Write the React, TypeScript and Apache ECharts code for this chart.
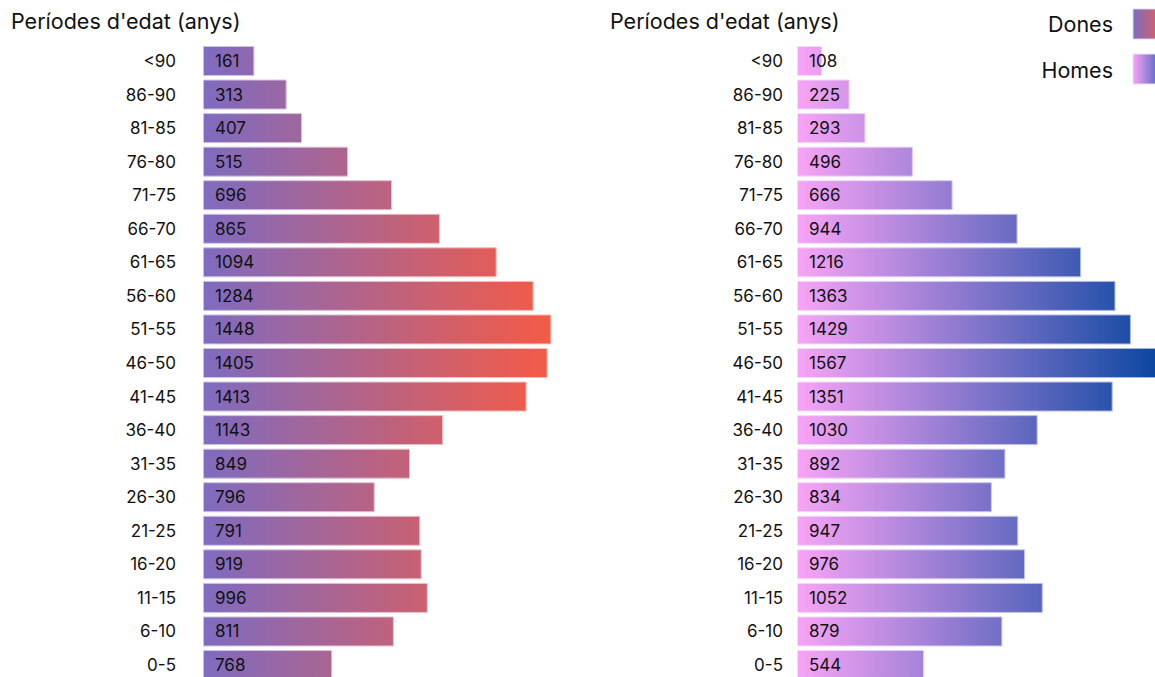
import React, { useEffect, useRef } from "react";
import * as echarts from "echarts";

const categories = ["<90", "86-90", "81-85", "76-80", "71-75", "66-70", "61-65", "56-60", "51-55", "46-50", "41-45", "36-40", "31-35", "26-30", "21-25", "16-20", "11-15", "6-10", "0-5"];

// Dones: labels as printed, and bar lengths as drawn (same axis units as Homes)
const donesLabels = [161, 313, 407, 515, 696, 865, 1094, 1284, 1448, 1405, 1413, 1143, 849, 796, 791, 919, 996, 811, 768];
const donesBars = [220, 358, 424, 621, 809, 1014, 1257, 1415, 1491, 1475, 1385, 1028, 886, 735, 930, 936, 962, 817, 553];

// Homes
const homesValues = [108, 225, 293, 496, 666, 944, 1216, 1363, 1429, 1567, 1351, 1030, 892, 834, 947, 976, 1052, 879, 544];

const titleText = "Períodes d'edat (anys)";
const FONT = "Inter, 'Noto Sans', sans-serif";

export default function App() {
  const ref = useRef<HTMLDivElement>(null);
  useEffect(() => {
    if (!ref.current) return;
    const chart = echarts.init(ref.current, null, { renderer: "svg" });
    const G = echarts.graphic.LinearGradient;
    const leftFill = new G(203, 0, 551, 0, [
      { offset: 0, color: "#7e6bc0" },
      { offset: 1, color: "#f55a45" },
    ], true);
    const leftBorder = new G(203, 0, 551, 0, [
      { offset: 0, color: "#cbc2e8" },
      { offset: 1, color: "#fbc0b6" },
    ], true);
    const rightFill = new G(797, 0, 1155, 0, [
      { offset: 0, color: "#f8a4f6" },
      { offset: 1, color: "#0d47a1" },
    ], true);
    const rightBorder = new G(797, 0, 1155, 0, [
      { offset: 0, color: "#fcd8fc" },
      { offset: 1, color: "#9fb4dc" },
    ], true);

    const catAxis = (gridIndex: number, margin: number) => ({
      type: "category",
      gridIndex,
      data: categories,
      inverse: true,
      axisLine: { show: false },
      axisTick: { show: false },
      axisLabel: { margin, color: "#111", fontSize: 17, fontFamily: FONT, align: "right" },
    });
    const valAxis = (gridIndex: number) => ({
      type: "value",
      gridIndex,
      min: 0,
      max: 1712,
      show: false,
      splitLine: { show: false },
    });
    const labelCfg = (fmt: (p: any) => string) => ({
      show: true,
      position: "insideLeft",
      distance: 12,
      color: "#111",
      fontSize: 17,
      fontFamily: FONT,
      formatter: fmt,
    });
    const titleStyle = { fontSize: 21.5, fontWeight: "normal", color: "#111", fontFamily: FONT };

    chart.setOption({
      animation: false,
      backgroundColor: "#fff",
      title: [
        { text: titleText, left: 11, top: 10, padding: 0, textStyle: titleStyle },
        { text: titleText, left: 610, top: 10, padding: 0, textStyle: titleStyle },
      ],
      grid: [
        { left: 203, top: 44.2, width: 400, height: 637.6 },
        { left: 797, top: 44.2, width: 400, height: 637.6 },
      ],
      yAxis: [catAxis(0, 27), catAxis(1, 14)],
      xAxis: [valAxis(0), valAxis(1)],
      series: [
        {
          name: "Dones",
          type: "bar",
          xAxisIndex: 0,
          yAxisIndex: 0,
          data: donesBars,
          barCategoryGap: "10.6%",
          itemStyle: { color: leftFill, borderColor: leftBorder, borderWidth: 1 },
          label: labelCfg((p: any) => String(donesLabels[p.dataIndex])),
        },
        {
          name: "Homes",
          type: "bar",
          xAxisIndex: 1,
          yAxisIndex: 1,
          data: homesValues,
          barCategoryGap: "10.6%",
          itemStyle: { color: rightFill, borderColor: rightBorder, borderWidth: 1 },
          label: labelCfg((p: any) => String(p.value)),
        },
      ],
      graphic: [
        { type: "text", x: 1113, y: 24, style: { text: "Dones", fill: "#111", fontSize: 21.5, fontFamily: FONT, textAlign: "right", textVerticalAlign: "middle" } },
        { type: "text", x: 1113, y: 70, style: { text: "Homes", fill: "#111", fontSize: 21.5, fontFamily: FONT, textAlign: "right", textVerticalAlign: "middle" } },
        {
          type: "rect", shape: { x: 1133, y: 9, width: 30, height: 30 },
          style: {
            fill: new G(0, 0, 1, 0, [{ offset: 0, color: "#7e6bc0" }, { offset: 1, color: "#e0605a" }]),
            stroke: "#ddd6ee", lineWidth: 1,
          },
        },
        {
          type: "rect", shape: { x: 1133, y: 54, width: 30, height: 30 },
          style: {
            fill: new G(0, 0, 1, 0, [{ offset: 0, color: "#f8a4f6" }, { offset: 1, color: "#3d5cb8" }]),
            stroke: "#e8e0f4", lineWidth: 1,
          },
        },
      ],
    });
    return () => chart.dispose();
  }, []);
  return (
    <div style={{ position: "fixed", left: 0, top: 0, width: 1155, height: 677, overflow: "hidden", background: "#fff" }}>
      <div ref={ref} style={{ position: "absolute", left: 0, top: 0, width: 1240, height: 720 }} />
    </div>
  );
}
